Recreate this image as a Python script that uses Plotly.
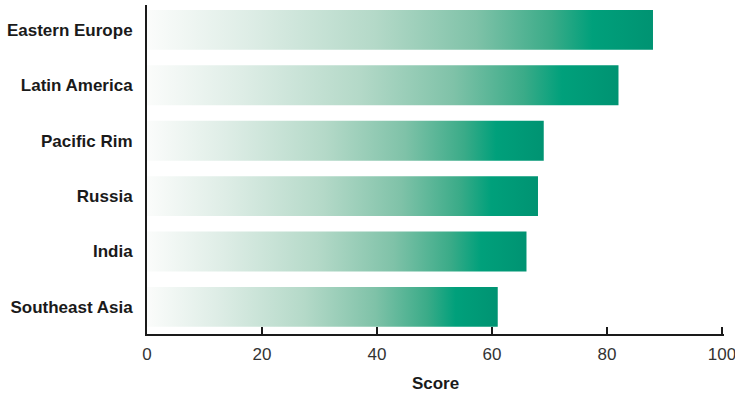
import plotly.graph_objects as go

categories = ["Southeast Asia", "India", "Russia", "Pacific Rim", "Latin America", "Eastern Europe"]
scores = [61, 66, 68, 69, 82, 88]
x_ticks = [0, 20, 40, 60, 80, 100]

FONT = "Liberation Sans, Arial, sans-serif"
half = 0.36
scale = [
    [0.0, "#fbfcfb"],
    [0.2, "#deede6"],
    [0.45, "#b4d9c8"],
    [0.65, "#7fc2a8"],
    [0.8, "#3aab88"],
    [0.88, "#00a07b"],
    [1.0, "#009372"],
]

fig = go.Figure()
for i, (cat, v) in enumerate(zip(categories, scores)):
    fig.add_trace(go.Scatter(
        x=[0, v, v, 0, 0],
        y=[i - half, i - half, i + half, i + half, i - half],
        mode="lines",
        fill="toself",
        line=dict(width=0, color="rgba(0,0,0,0)"),
        fillgradient=dict(type="horizontal", colorscale=scale),
        name=cat,
        hoverinfo="text",
        text=f"{cat}: {v}",
        showlegend=False,
    ))

fig.update_layout(
    width=735, height=394,
    margin=dict(l=147, r=11, t=5, b=60),
    paper_bgcolor="white", plot_bgcolor="white",
    font=dict(family=FONT, size=16, color="#1a1a1a"),
    showlegend=False,
)
fig.update_xaxes(
    range=[0, 100.35], tickvals=x_ticks, ticktext=[str(t) for t in x_ticks],
    showline=True, linecolor="#1a1a1a", linewidth=2,
    ticks="inside", ticklen=7, tickwidth=2, tickcolor="#1a1a1a",
    showgrid=False, zeroline=False,
    title=dict(text="<b>Score</b>", font=dict(family=FONT, size=17), standoff=14),
    tickfont=dict(family=FONT, size=17, color="#333333"),
    ticklabelstandoff=4,
    ticklabeloverflow="allow",
    automargin=False,
)
fig.update_yaxes(
    range=[-0.49, 5.45], tickvals=list(range(len(categories))),
    ticktext=[f"<b>{c}</b>" for c in categories],
    showline=True, linecolor="#1a1a1a", linewidth=2,
    ticks="", showgrid=False, zeroline=False,
    tickfont=dict(family=FONT, size=17, color="#1a1a1a"),
    ticklabelstandoff=9,
    automargin=False,
)

fig.write_html("out.html")
